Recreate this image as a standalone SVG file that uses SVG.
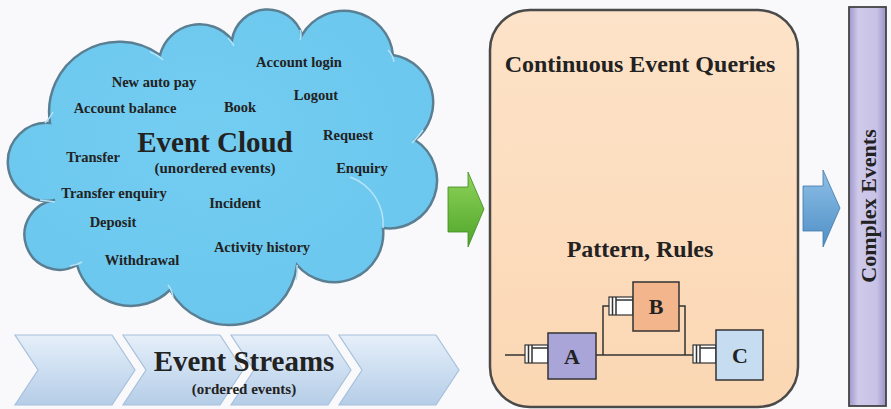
<svg xmlns="http://www.w3.org/2000/svg" width="891" height="409" viewBox="0 0 891 409">
<style>
.t{font-family:"Liberation Serif","Times New Roman",serif;font-weight:bold;fill:#222;text-anchor:middle}
.ev{font-size:14.5px}
.chev{fill:url(#gChev);stroke:#a6c0dc;stroke-width:1.2}
.box{stroke:#333;stroke-width:1.5}
.plug{fill:#fff;stroke:#333;stroke-width:1.2}
.wire{fill:none;stroke:#333;stroke-width:1.5}
.crease{fill:none;stroke:#b5e3f7;stroke-width:1.5}
</style>
<defs>
<linearGradient id="gChev" x1="0" y1="0" x2="0" y2="1">
<stop offset="0" stop-color="#e6eff9"/><stop offset="0.45" stop-color="#cfe0f2"/><stop offset="1" stop-color="#b5cde7"/>
</linearGradient>
<linearGradient id="gOrange" x1="0" y1="0" x2="0" y2="1">
<stop offset="0" stop-color="#fde3c9"/><stop offset="1" stop-color="#fbd7b3"/>
</linearGradient>
<linearGradient id="gBar" x1="0" y1="0" x2="1" y2="0">
<stop offset="0" stop-color="#9e97cc"/><stop offset="0.25" stop-color="#cfcaea"/><stop offset="0.75" stop-color="#c8c2e6"/><stop offset="1" stop-color="#9a93c6"/>
</linearGradient>
<linearGradient id="gGreen" x1="0" y1="0" x2="0" y2="1">
<stop offset="0" stop-color="#8fd35a"/><stop offset="1" stop-color="#4fa52a"/>
</linearGradient>
<linearGradient id="gBlue" x1="0" y1="0" x2="0" y2="1">
<stop offset="0" stop-color="#8ec0e6"/><stop offset="1" stop-color="#4f8fc6"/>
</linearGradient>
<radialGradient id="gCloud" cx="0.45" cy="0.4" r="0.7">
<stop offset="0" stop-color="#74cdf1"/><stop offset="1" stop-color="#6ac6ee"/>
</radialGradient>
</defs>
<rect width="891" height="409" fill="#f9f9fb"/>

<g id="cloud">
<path d="M50,123 A70,70 0 0 1 160,55 A41,41 0 0 1 232,40 A36,36 0 0 1 302,35 A49,49 0 0 1 393,55 A48,48 0 0 1 415,140 A48,48 0 0 1 383,228 A49,49 0 0 1 297,265 A68,68 0 0 1 170,290 A56,56 0 0 1 77,265 A35,35 0 1 1 55,200 A39,39 0 1 1 50,123 Z" fill="url(#gCloud)" stroke="#5b7f92" stroke-width="2.5"/>
<path class="crease" d="M350,177 A50,50 0 0 1 383,228"/>
<path class="crease" d="M45,123 Q50,118 53,112"/>
<path class="crease" d="M150,52 Q158,55 163,60"/>
<path class="crease" d="M228,38 Q232,42 234,46"/>
<path class="crease" d="M300,30 Q302,34 300,40"/>
<path class="crease" d="M388,50 Q393,55 394,62"/>
<path class="crease" d="M423,130 Q418,137 412,143"/>
<path class="crease" d="M297,265 Q298,272 296,280"/>
<path class="crease" d="M168,285 Q172,290 173,297"/>
<path class="crease" d="M70,266 Q77,265 82,262"/>
<path class="crease" d="M40,200 Q48,201 55,202"/>
<text class="t" x="215" y="152" font-size="29">Event Cloud</text>
<text class="t" x="215" y="173" font-size="15">(unordered events)</text>
<text class="t ev" x="299" y="67">Account login</text>
<text class="t ev" x="154" y="87">New auto pay</text>
<text class="t ev" x="316" y="100">Logout</text>
<text class="t ev" x="125" y="113">Account balance</text>
<text class="t ev" x="240" y="112">Book</text>
<text class="t ev" x="348" y="140">Request</text>
<text class="t ev" x="93" y="162">Transfer</text>
<text class="t ev" x="362" y="173">Enquiry</text>
<text class="t ev" x="114" y="198">Transfer enquiry</text>
<text class="t ev" x="235" y="208">Incident</text>
<text class="t ev" x="113" y="227">Deposit</text>
<text class="t ev" x="262" y="252">Activity history</text>
<text class="t ev" x="142" y="265">Withdrawal</text>
</g>

<g id="event-streams">
<polygon class="chev" points="15,335 112,335 135,370 112,405 15,405 38,370"/>
<polygon class="chev" points="123,335 220,335 243,370 220,405 123,405 146,370"/>
<polygon class="chev" points="231,335 328,335 351,370 328,405 231,405 254,370"/>
<polygon class="chev" points="339,335 436,335 459,370 436,405 339,405 362,370"/>
<text class="t" x="244" y="371" font-size="29">Event Streams</text>
<text class="t" x="244" y="394" font-size="15">(ordered events)</text>
</g>

<g id="arrows">
<path d="M448,187 H468 V172 L484,209 L468,247 V232 H448 Z" fill="url(#gGreen)" stroke="#3f8a22" stroke-width="0.8"/>
<path d="M803,186 H823 V170 L840,208 L823,247 V231 H803 Z" fill="url(#gBlue)" stroke="#3f78aa" stroke-width="0.8"/>
</g>

<g id="queries">
<rect x="490" y="10" width="308" height="397" rx="40" ry="40" fill="url(#gOrange)" stroke="#4a4a4a" stroke-width="2.5"/>
<text class="t" x="640" y="72" font-size="24">Continuous Event Queries</text>
<text class="t" x="640" y="257" font-size="24">Pattern, Rules</text>
</g>

<g id="connectors">
<path class="wire" d="M505,355 H525"/>
<path class="wire" d="M596,355 H693"/>
<path class="wire" d="M603,355 V306 H609"/>
<path class="wire" d="M679,306 H685 V355"/>
</g>

<g id="node-a">
<rect class="plug" x="525" y="345" width="23" height="18"/>
<path class="wire" d="M528.5,345 V363 M532,345 V363 M532,348 H548" stroke-width="1"/>
<rect class="box" x="548" y="333" width="48" height="46" fill="#a9a5d8"/>
<text class="t" x="572" y="364" font-size="22">A</text>
</g>

<g id="node-b">
<rect class="plug" x="609" y="297" width="24" height="18"/>
<path class="wire" d="M612.5,297 V315 M616,297 V315 M616,300 H633" stroke-width="1"/>
<rect class="box" x="633" y="282" width="46" height="49" fill="#f3b58b"/>
<text class="t" x="656" y="314" font-size="22">B</text>
</g>

<g id="node-c">
<rect class="plug" x="693" y="345" width="23" height="18"/>
<path class="wire" d="M696.5,345 V363 M700,345 V363 M700,348 H716" stroke-width="1"/>
<rect class="box" x="716" y="330" width="47" height="50" fill="#c5dcf1"/>
<text class="t" x="740" y="363" font-size="22">C</text>
</g>

<g id="complex-events">
<rect x="849" y="7" width="37" height="399" fill="url(#gBar)" stroke="#444" stroke-width="1.8"/>
<text class="t" transform="translate(876,206) rotate(-90)" font-size="22">Complex Events</text>
</g>
</svg>
